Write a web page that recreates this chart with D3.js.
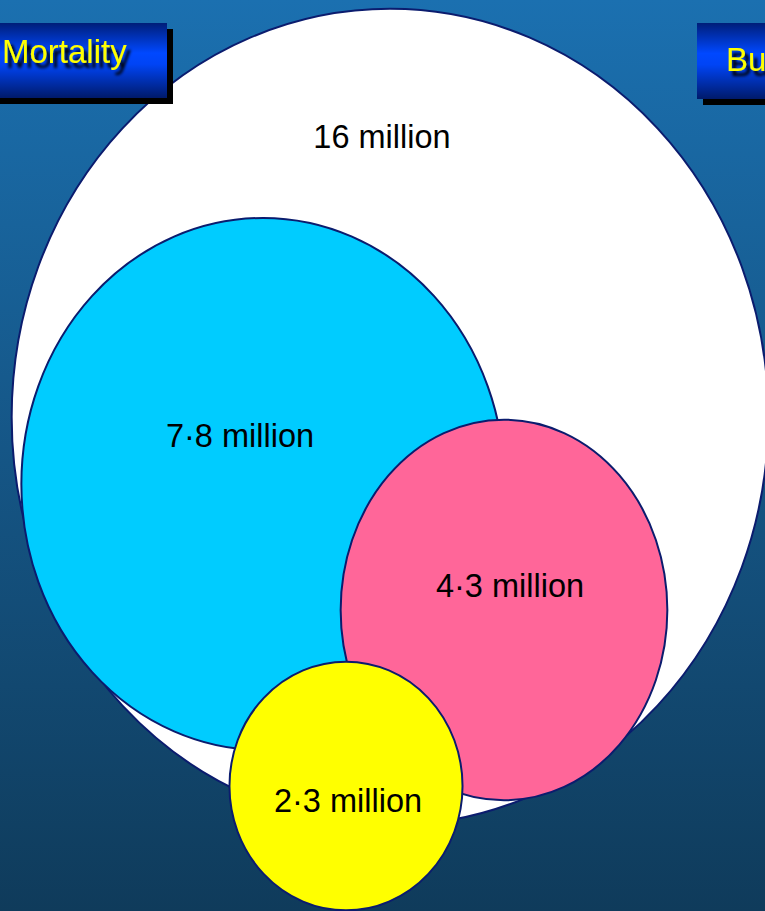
<!DOCTYPE html>
<html>
<head>
<meta charset="utf-8">
<script src="https://cdn.jsdelivr.net/npm/d3@7"></script>
<style>
  html, body { margin: 0; padding: 0; background: #1a6aa6; overflow: hidden; }
  svg { display: block; }
  text { font-family: "Liberation Sans", Arial, sans-serif; }
</style>
</head>
<body>
<svg id="chart" width="765" height="911"></svg>
<script>
// Deaths (millions) for the nested groups
const groups = ["all", "group-a", "group-b", "group-c"];
const values = [16, 7.8, 4.3, 2.3];
const labels = ["16 million", "7\u00b78 million", "4\u00b73 million", "2\u00b73 million"];
const fills = ["#ffffff", "#00ccff", "#ff6699", "#ffff00"];

// Header buttons
const buttonLabels = ["Mortality", "Burden"];

// Placement of each ellipse: centre, height/width ratio, label offset
const layout = [
  { cx: 390, cy: 417, aspect: 1.079, lx: -8,  ly: -269 },
  { cx: 263, cy: 484, aspect: 1.101, lx: -23, ly: -37 },
  { cx: 504, cy: 610, aspect: 1.165, lx: 6,   ly: -13 },
  { cx: 346, cy: 786, aspect: 1.067, lx: 2,   ly: 26 }
];
const buttonLayout = [
  { x: -27, y: 23, w: 194, h: 75, tx: 2,   ty: 63 },
  { x: 697, y: 23, w: 160, h: 76, tx: 726, ty: 71 }
];

const W = 765, H = 911;
const svg = d3.select("#chart");
const defs = svg.append("defs");

// Background gradient
const bg = defs.append("linearGradient").attr("id", "bg")
  .attr("x1", 0).attr("y1", 0).attr("x2", 0).attr("y2", 1);
bg.append("stop").attr("offset", "0%").attr("stop-color", "#1b70b0");
bg.append("stop").attr("offset", "100%").attr("stop-color", "#0f3b5b");
svg.append("rect").attr("width", W).attr("height", H).attr("fill", "url(#bg)");

// Button gradient: dark edges, bright middle
const bt = defs.append("linearGradient").attr("id", "btn")
  .attr("x1", 0).attr("y1", 0).attr("x2", 0).attr("y2", 1);
[["0%", "#001e78"], ["40%", "#0048ff"], ["55%", "#0044f5"], ["100%", "#001a6a"]]
  .forEach(([o, c]) => bt.append("stop").attr("offset", o).attr("stop-color", c));

// Soft black drop shadow behind the button captions
const shadow = defs.append("filter").attr("id", "shadow")
  .attr("x", "-10%").attr("y", "-30%").attr("width", "130%").attr("height", "170%");
shadow.append("feGaussianBlur").attr("in", "SourceAlpha").attr("stdDeviation", 1.4).attr("result", "b");
shadow.append("feOffset").attr("in", "b").attr("dx", 4).attr("dy", 5).attr("result", "o");
const merge = shadow.append("feMerge");
merge.append("feMergeNode").attr("in", "o");
merge.append("feMergeNode").attr("in", "SourceGraphic");

// Ellipse size: mean radius grows with a power of the value
const size = d3.scalePow().exponent(0.61).domain([0, d3.max(values)]).range([0, 393]);

const data = values.map((v, i) => {
  const r = size(v), L = layout[i], s = Math.sqrt(L.aspect);
  return { key: groups[i], value: v, label: labels[i], fill: fills[i],
           cx: L.cx, cy: L.cy, rx: r / s, ry: r * s, lx: L.cx + L.lx, ly: L.cy + L.ly };
});

svg.append("g").selectAll("ellipse").data(data).join("ellipse")
  .attr("cx", d => d.cx).attr("cy", d => d.cy)
  .attr("rx", d => d.rx).attr("ry", d => d.ry)
  .attr("fill", d => d.fill)
  .attr("stroke", "#0b1c6e").attr("stroke-width", 2);

svg.append("g").selectAll("text").data(data).join("text")
  .attr("x", d => d.lx).attr("y", d => d.ly)
  .attr("text-anchor", "middle")
  .attr("font-size", 32.5)
  .attr("fill", "#000")
  .text(d => d.label);

// Buttons
const btn = svg.append("g").selectAll("g").data(buttonLabels).join("g");
btn.append("rect")
  .attr("x", (d, i) => buttonLayout[i].x + 6).attr("y", (d, i) => buttonLayout[i].y + 6)
  .attr("width", (d, i) => buttonLayout[i].w).attr("height", (d, i) => buttonLayout[i].h)
  .attr("fill", "#000");
btn.append("rect")
  .attr("x", (d, i) => buttonLayout[i].x).attr("y", (d, i) => buttonLayout[i].y)
  .attr("width", (d, i) => buttonLayout[i].w).attr("height", (d, i) => buttonLayout[i].h)
  .attr("fill", "url(#btn)");
btn.append("text")
  .attr("x", (d, i) => buttonLayout[i].tx).attr("y", (d, i) => buttonLayout[i].ty)
  .attr("font-size", 33).attr("fill", "#ffff00")
  .attr("filter", "url(#shadow)")
  .text(d => d);
</script>
</body>
</html>
